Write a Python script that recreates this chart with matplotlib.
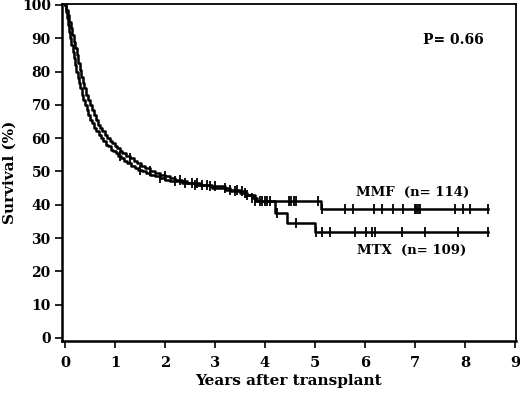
import numpy as np
import matplotlib
matplotlib.use("Agg")
import matplotlib.pyplot as plt

# step points (time in years, survival in %)
mmf_t = [0, 0.03, 0.06, 0.09, 0.12, 0.15, 0.18, 0.21, 0.24, 0.27, 0.3, 0.33, 0.36, 0.39,
         0.42, 0.46, 0.5, 0.54, 0.58, 0.62, 0.66, 0.7, 0.75, 0.8, 0.85, 0.9, 0.95, 1.0,
         1.05, 1.1, 1.15, 1.22, 1.3, 1.38, 1.45, 1.52, 1.6, 1.7, 1.8, 1.9, 2.0, 2.1, 2.2,
         2.35, 2.45, 2.7, 2.95, 3.3, 3.6, 3.75, 3.85, 5.13]
mmf_s = [100, 98.5, 97, 95, 93, 91, 89, 87, 85, 82.5, 80.5, 78.5, 76.5, 75,
         73, 71.5, 70, 68.5, 67, 65.5, 64, 63, 62, 61, 60, 59, 58.5, 57.5,
         57, 56, 55.5, 54.5, 54, 53, 52.5, 51.5, 51, 50, 49.5, 49, 48.5, 48, 47.5,
         47, 46.5, 46, 45, 44, 43, 42, 41, 38.6]
mtx_t = [0, 0.02, 0.04, 0.06, 0.08, 0.1, 0.13, 0.16, 0.18, 0.21, 0.23, 0.26, 0.28, 0.31,
         0.34, 0.37, 0.4, 0.44, 0.47, 0.51, 0.55, 0.59, 0.63, 0.68, 0.72, 0.77, 0.82,
         0.87, 0.92, 0.97, 1.02, 1.07, 1.12, 1.18, 1.25, 1.32, 1.4, 1.47, 1.55, 1.62,
         1.7, 1.8, 1.9, 2.0, 2.1, 2.35, 2.6, 2.9, 3.2, 3.5, 3.65, 3.8, 4.2, 4.44, 5.01]
mtx_s = [100, 98, 96, 94, 92, 90, 88, 86, 84, 82, 80, 78, 76.5, 75,
         73, 71.5, 70, 68.5, 67, 65.5, 64.5, 63, 62, 61, 60, 59, 58,
         57.5, 56.5, 56, 55.5, 54.5, 54, 53, 52.5, 51.5, 51, 50.5, 50, 49.5,
         49, 48.5, 48, 47.5, 47, 46.5, 46, 45.5, 44.5, 43.5, 43, 41, 37.4, 34.5, 31.8]
t_end = 8.47

# censored observations
mmf_cens = [1.3, 1.7, 2.0, 2.3, 2.55, 2.65, 2.75, 2.85, 3.2, 3.4, 3.55, 3.65, 3.75, 3.9,
            4.0, 4.1, 4.48, 4.53, 4.58, 4.63, 5.06, 5.15, 5.61, 5.77, 6.19, 6.35, 6.57,
            6.77, 7.0, 7.03, 7.07, 7.1, 7.8, 7.97, 8.1, 8.47]
mtx_cens = [1.1, 1.5, 1.9, 2.2, 2.4, 2.6, 2.9, 3.0, 3.3, 3.45, 3.6, 3.8, 3.95, 4.05,
            4.25, 4.63, 5.03, 5.15, 5.3, 5.8, 6.03, 6.15, 6.2, 6.74, 7.21, 7.87, 8.47]

x_ticks = list(range(0, 10))
y_ticks = list(range(0, 101, 10))

plt.rcParams['font.family'] = ['DejaVu Serif']
plt.rcParams['font.weight'] = 'bold'

fig = plt.figure(figsize=(5.2, 3.96), dpi=100)
ax = fig.add_axes([0.119, 0.139, 0.873, 0.851])


def km(ax, t, s, cens):
    t = list(t) + [t_end]
    s = list(s) + [s[-1]]
    ax.step(t, s, where='post', color='black', lw=1.8)
    idx = np.searchsorted(t, cens, side='right') - 1
    ax.plot(cens, np.array(s)[idx], ls='none', marker='|', ms=7, mew=1.3, color='black')


km(ax, mmf_t, mmf_s, mmf_cens)
km(ax, mtx_t, mtx_s, mtx_cens)

ax.text(7.78, 89.5, 'P= 0.66', ha='center', va='center', fontsize=10, fontweight='bold')
ax.text(6.95, 43.8, 'MMF  (n= 114)', ha='center', va='center', fontsize=9.5, fontweight='bold')
ax.text(6.93, 26.4, 'MTX  (n= 109)', ha='center', va='center', fontsize=9.5, fontweight='bold')

ax.set_xlim(-0.06, 9.02)
ax.set_ylim(-0.9, 100.3)
ax.set_xticks(x_ticks)
ax.set_yticks(y_ticks)
ax.tick_params(direction='out', length=5, width=1.2, labelsize=10, pad=3)
ax.tick_params(axis='x', labelsize=10.5, pad=6)
for lab in ax.get_xticklabels() + ax.get_yticklabels():
    lab.set_fontweight('bold')
for name, sp in ax.spines.items():
    sp.set_linewidth(1.8 if name in ('left', 'bottom') else 1.3)

ax.set_xlabel('Years after transplant', fontsize=11, fontweight='bold', labelpad=3)
ax.set_ylabel('Survival (%)', fontsize=11, fontweight='bold', labelpad=4)

fig.savefig('out.png', dpi=100)
